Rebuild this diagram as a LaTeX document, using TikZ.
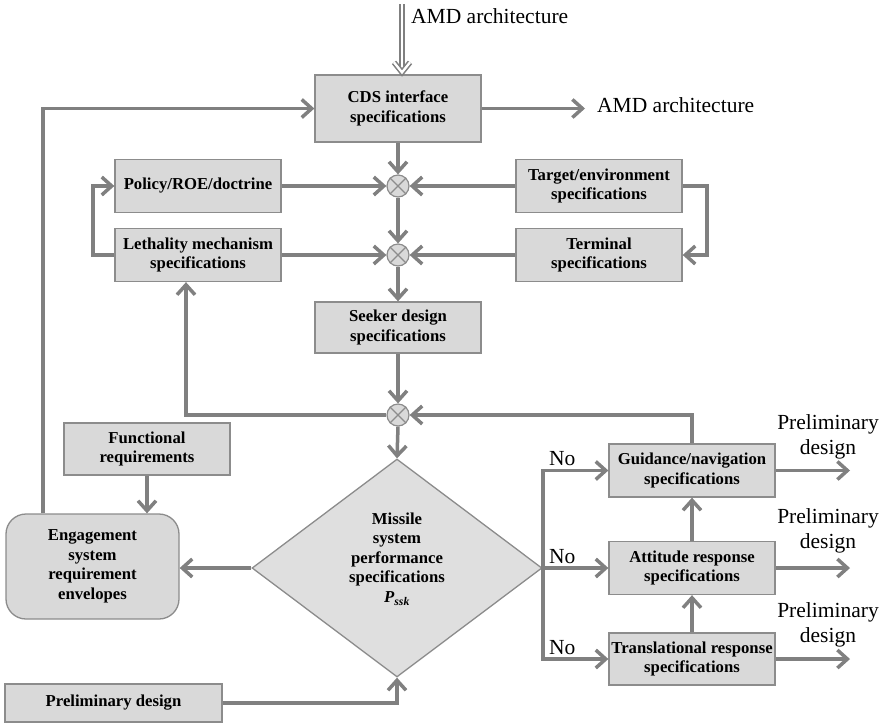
\documentclass[tikz,border=0pt]{standalone}
\usepackage{fontspec}
\setmainfont{Liberation Serif}
\usetikzlibrary{arrows.meta,shapes.geometric,calc}
\definecolor{linegray}{RGB}{128,128,128}
\definecolor{bordergray}{RGB}{140,140,140}
\definecolor{boxfill}{RGB}{217,217,217}
\definecolor{diafill}{RGB}{223,223,223}
\tikzset{
  boxnode/.style={draw=bordergray, line width=1.3pt, fill=boxfill, align=center, inner sep=0pt,
    minimum width=166pt, minimum height=53pt, font=\bfseries\fontsize{16.7}{19.5}\selectfont},
  txt/.style={inner sep=0pt, font=\fontsize{21.5}{25}\selectfont, align=center},
  btxt/.style={inner sep=0pt, align=center, font=\bfseries\fontsize{16.7}{19.5}\selectfont},
  junction/.style={circle, draw=bordergray, line width=1.2pt, fill=boxfill, minimum size=22pt, inner sep=0pt},
  arr/.style={draw=linegray, line width=3.5pt, -{Straight Barb[length=10pt,width=18pt]}},
  arrboth/.style={draw=linegray, line width=3.5pt, {Straight Barb[length=10pt,width=18pt]}-{Straight Barb[length=10pt,width=18pt]}},
  ln/.style={draw=linegray, line width=3.5pt},
  dblline/.style={draw=linegray, line width=1.6pt, double=white, double distance=2.3pt},
  xmark/.style={draw=bordergray, line width=1.1pt}
}
\begin{document}
\begin{tikzpicture}[x=1pt,y=-1pt]
\useasboundingbox (0,0) rectangle (885,724);

% boxes
\node[boxnode, minimum height=67pt] (cds) at (398,108.5) {CDS interface\\specifications};
\node[boxnode] (policy) at (198,186) {Policy/ROE/doctrine};
\node[boxnode] (leth) at (198,255) {Lethality mechanism\\specifications};
\node[boxnode] (target) at (599,186) {Target/environment\\specifications};
\node[boxnode] (term) at (599,255) {Terminal\\specifications};
\node[boxnode, minimum height=51pt] (seeker) at (398,327.5) {Seeker design\\specifications};
\node[boxnode, minimum height=52pt] (func) at (147,449) {Functional\\requirements};
\node[boxnode, minimum width=173pt, minimum height=105pt, rounded corners=20pt] (eng) at (92.5,566.5)
  {Engagement\\system\\requirement\\envelopes};
\node[boxnode, minimum width=217pt, minimum height=38pt] (prelim) at (113.5,703) {Preliminary design};
\node[boxnode] (guid) at (692,470.5) {Guidance/navigation\\specifications};
\node[boxnode] (att) at (692,568) {Attitude response\\specifications};
\node[boxnode, minimum height=52pt] (trans) at (692,659) {Translational response\\specifications};

% diamond
\node[diamond, draw=bordergray, line width=1.3pt, fill=diafill, minimum width=290pt, minimum height=218pt, inner sep=0pt] (dia) at (397,568) {};
\node[btxt] (diatext) at (397,559) {Missile\\system\\performance\\specifications\\\textit{P}\textsubscript{\textit{ssk}}};

% junctions
\node[junction] (c1) at (398,186) {};
\node[junction] (c2) at (398,255) {};
\node[junction] (c3) at (398,415) {};
\foreach \c in {c1,c2,c3}{
  \draw[xmark] (\c.45) -- (\c.225) (\c.135) -- (\c.315);
}

% external coordinates
\coordinate (amdin) at (402,4);
\coordinate (amdtip) at ($(amdin |- cds.north)+(0,-2)$);
\coordinate (amdout) at (585,108.5);
\coordinate (fbc) at (43,108.5);
\coordinate (lloop) at (93,220);
\coordinate (rloop) at (707,220);
\coordinate (lb) at (186,415);
\coordinate (br) at (543,568);
\coordinate (outx) at (850,0);

% labels
\node[txt, anchor=base west] (amdtop) at (411,23) {AMD architecture};
\node[txt, anchor=base west] (amdright) at (597,112) {AMD architecture};
\node[txt, anchor=base west] (no1) at (549,465) {No};
\node[txt, anchor=base west] (no2) at (549,563) {No};
\node[txt, anchor=base west] (no3) at (549,654) {No};
\node[txt] (pd1) at (828,437) {Preliminary\\design};
\node[txt] (pd2) at (828,531) {Preliminary\\design};
\node[txt] (pd3) at (828,625) {Preliminary\\design};

% connectors
\draw[dblline] (amdin) -- ($(amdtip)+(0,-3)$);
\draw[dblline, line join=miter] ($(amdtip)+(-8,-10)$) -- (amdtip) -- ($(amdtip)+(8,-10)$);
\draw[arr] (cds.east) -- (amdout);
\draw[arr] (eng.north -| fbc) -- (fbc) -- (cds.west);
\draw[arr] (cds.south) -- (c1.north);
\draw[arr] (policy.east) -- (c1.west);
\draw[arr] (target.west) -- (c1.east);
\draw[arr] (c1.south) -- (c2.north);
\draw[arr] (leth.east) -- (c2.west);
\draw[arr] (term.west) -- (c2.east);
\draw[arr] (leth.west) -- (leth.west -| lloop) -- (policy.west -| lloop) -- (policy.west);
\draw[arr] (target.east) -- (target.east -| rloop) -- (term.east -| rloop) -- (term.east);
\draw[arr] (c2.south) -- (seeker.north);
\draw[arr] (seeker.south) -- (c3.north);
\draw[arr] (c3.west) -- (lb) -- (lb |- leth.south);
\draw[arr] (guid.north) -- (guid.north |- c3) -- (c3.east);
\draw[arr] (c3.south) -- (dia.north);
\draw[arr] (func.south) -- (func.south |- eng.north);
\draw[arr] (dia.west) -- (dia.west -| eng.east);
\draw[arr] (prelim.east) -| (dia.south);
\draw[arrboth] (guid.west) -- (guid.west -| br) -- (trans.west -| br) -- (trans.west);
\draw[arr] (dia.east) -- (att.west);
\draw[arr] (trans.north) -- (att.south);
\draw[arr] (att.north) -- (guid.south);
\draw[arr] (guid.east) -- (guid.east -| outx);
\draw[arr] (att.east) -- (att.east -| outx);
\draw[arr] (trans.east) -- (trans.east -| outx);
\end{tikzpicture}
\end{document}
